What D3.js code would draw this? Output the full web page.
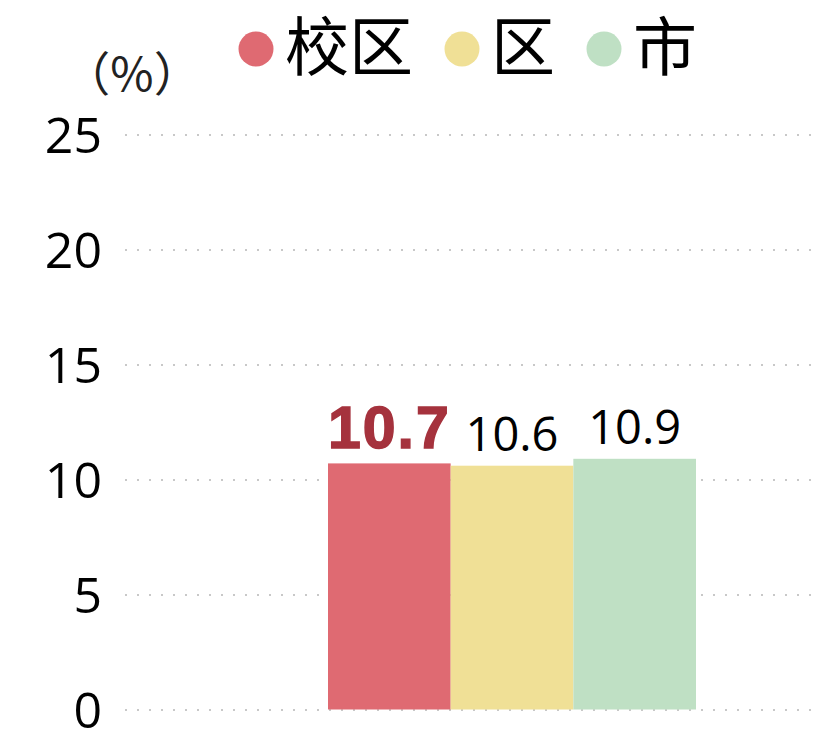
<!DOCTYPE html>
<html>
<head>
<meta charset="utf-8">
<title>柱状图</title>
<style>
  html, body { margin: 0; padding: 0; background: #fff; }
  svg { display: block; }
</style>
</head>
<body>
<script src="https://cdn.jsdelivr.net/npm/d3@7"></script>
<script>
    var width = 816;
    var height = 732;

    // 数据
    var series = ["校区", "区", "市"];
    var values = [10.7, 10.6, 10.9];
    var colors = ["#df6a72", "#f0e096", "#bfe0c4"];
    var yTicks = [0, 5, 10, 15, 20, 25];
    var unitLabel = "（%）";

    var svg = d3.select("body")
        .append("svg")
        .attr("width", width)
        .attr("height", height);

    var plot = {left: 125, right: 816, top: 134.5, bottom: 709.5};

    // y轴比例尺
    var yScale = d3.scaleLinear()
        .domain([0, 25])
        .range([plot.bottom, plot.top]);

    // 系列比例尺（三根柱子紧挨着）
    var xScale = d3.scaleBand()
        .domain(series)
        .range([328, 696])
        .padding(0);

    // 网格线 + 刻度
    var yAxis = d3.axisLeft(yScale)
        .tickValues(yTicks)
        .tickSize(-(plot.right - plot.left))
        .tickPadding(23);

    var gAxis = svg.append("g")
        .attr("transform", "translate(" + plot.left + ",0)")
        .call(yAxis);
    gAxis.select(".domain").remove();
    gAxis.selectAll(".tick line")
        .attr("stroke", "#c8c8c8")
        .attr("stroke-width", 2)
        .attr("stroke-dasharray", "2,10");
    gAxis.selectAll(".tick text")
        .attr("fill", "#000")
        .attr("font-family", "'Open Sans', 'Noto Sans', sans-serif")
        .attr("font-size", 50)
        .attr("dy", "0.36em");

    // 单位
    svg.append("text")
        .attr("x", 132)
        .attr("y", 91)
        .attr("text-anchor", "middle")
        .attr("font-family", "'Noto Sans CJK SC', sans-serif")
        .attr("font-size", 47)
        .attr("fill", "#222")
        .text(unitLabel);

    // 柱子
    svg.selectAll(".bar")
        .data(values)
        .enter()
        .append("rect")
        .attr("class", "bar")
        .attr("x", function(d, i) { return xScale(series[i]); })
        .attr("y", function(d) { return yScale(d); })
        .attr("width", xScale.bandwidth())
        .attr("height", function(d) { return yScale(0) - yScale(d); })
        .attr("fill", function(d, i) { return colors[i]; });

    // 数值标签（第一个加粗）
    svg.selectAll(".val")
        .data(values)
        .enter()
        .append("text")
        .attr("class", "val")
        .attr("x", function(d, i) { return xScale(series[i]) + xScale.bandwidth() / 2; })
        .attr("y", function(d) { return yScale(d) - 15; })
        .attr("text-anchor", "middle")
        .attr("font-family", function(d, i) {
            return i == 0 ? "'Liberation Sans', Arial, sans-serif" : "'Open Sans', 'Noto Sans', sans-serif";
        })
        .attr("font-weight", function(d, i) { return i == 0 ? "bold" : "normal"; })
        .attr("font-size", function(d, i) { return i == 0 ? 59 : 47; })
        .attr("letter-spacing", function(d, i) { return i == 0 ? 2 : 0; })
        .attr("fill", function(d, i) { return i == 0 ? "#a5323d" : "#000"; })
        .attr("stroke", function(d, i) { return i == 0 ? "#a5323d" : "none"; })
        .attr("stroke-width", 1.5)
        .text(function(d) { return d.toFixed(1); });

    // 图例
    var legend = svg.append("g");
    var lx = 239;
    series.forEach(function(s, i) {
        legend.append("circle")
            .attr("cx", lx + 17)
            .attr("cy", 49)
            .attr("r", 17.5)
            .attr("fill", colors[i]);
        var t = legend.append("text")
            .attr("x", lx + 46)
            .attr("y", 70)
            .attr("font-family", "'Noto Sans CJK SC', sans-serif")
            .attr("font-size", 64)
            .attr("fill", "#000")
            .text(s);
        lx = lx + 46 + t.node().getComputedTextLength() + 32;
    });
</script>
</body>
</html>
